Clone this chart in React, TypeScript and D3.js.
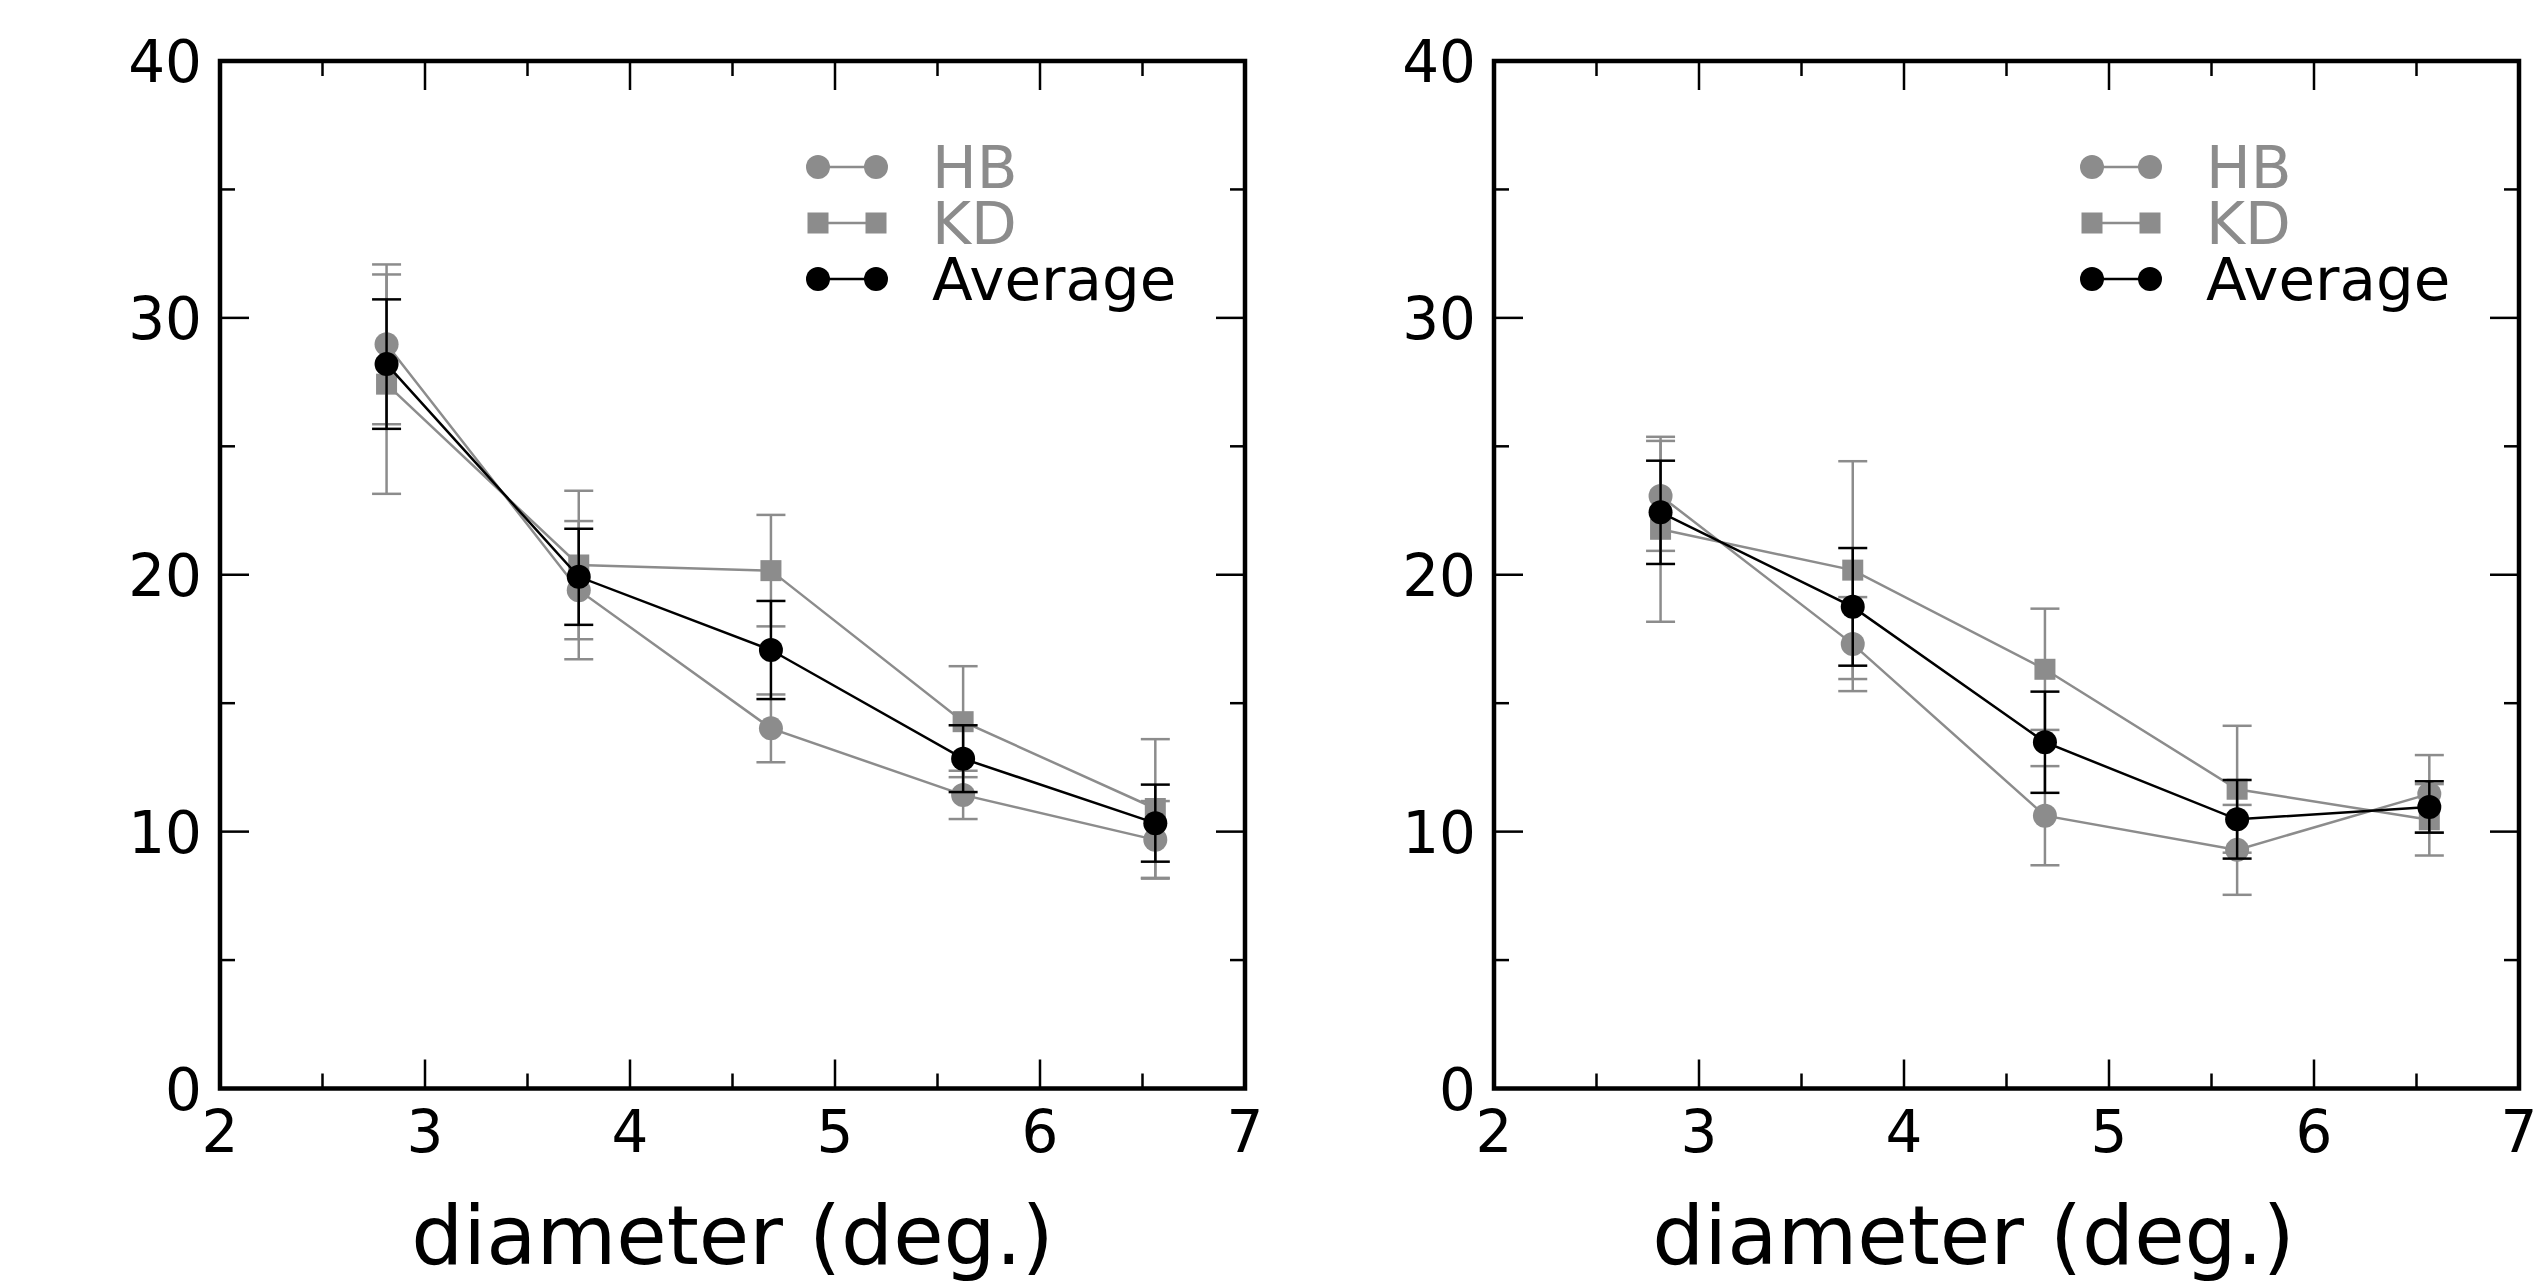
import * as d3 from "d3";

// stimulus diameters (deg.)
const diameters = [2.8125, 3.75, 4.6875, 5.625, 6.5625];

// left panel
const leftHB = [28.97, 19.4, 14.02, 11.43, 9.68];
const leftHBErr = [3.11, 2.69, 1.32, 0.94, 1.51];
const leftKD = [27.42, 20.38, 20.16, 14.28, 10.9];
const leftKDErr = [4.27, 2.89, 2.17, 2.16, 2.7];
const leftAvg = [28.2, 19.92, 17.07, 12.84, 10.33];
const leftAvgErr = [2.52, 1.87, 1.91, 1.3, 1.5];

// right panel
const rightHB = [23.07, 17.3, 10.62, 9.29, 11.47];
const rightHBErr = [2.14, 1.83, 1.93, 1.75, 1.51];
const rightKD = [21.77, 20.18, 16.32, 11.65, 10.46];
const rightKDErr = [3.6, 4.24, 2.36, 2.47, 1.39];
const rightAvg = [22.43, 18.75, 13.48, 10.48, 10.96];
const rightAvgErr = [2.01, 2.29, 1.97, 1.53, 1.0];

const seriesNames = ["HB", "KD", "Average"];
const xLabel = "diameter (deg.)";

const GRAY = "#8c8c8c";
const FONT = "DejaVu Sans";

type Series = { name: string; values: number[]; errs: number[]; color: string; shape: "circle" | "square" };

function Marker({ shape, x, y, color }: { shape: string; x: number; y: number; color: string }) {
    if (shape === "square") {
        return <rect x={x - 10.5} y={y - 10.5} width={21} height={21} fill={color} />;
    }
    return <circle cx={x} cy={y} r={12} fill={color} />;
}

function Panel({ left, series, labelShift }: { left: number; series: Series[]; labelShift: number }) {
    const width = 1025;
    const top = 61;
    const bottom = 1088.5;
    const x = d3.scaleLinear().domain([2, 7]).range([left, left + width]);
    const y = d3.scaleLinear().domain([0, 40]).range([bottom, top]);
    const line = d3.line<number>().x((_, i) => x(diameters[i])).y(d => y(d));

    const xMajor = x.ticks(5);
    const xMinor = d3.range(2.5, 7, 1);
    const yMajor = y.ticks(4);
    const yMinor = d3.range(5, 40, 10);
    const majorLen = 29;
    const minorLen = 15;
    const capHalf = 14.5;

    return (
        <g>
            {/* ticks, all sides inward */}
            <g stroke="#000" strokeWidth={2.5}>
                {xMajor.concat(xMinor).map((t, i) => {
                    const len = xMajor.includes(t) ? majorLen : minorLen;
                    return (
                        <g key={"xt" + i}>
                            <line x1={x(t)} x2={x(t)} y1={bottom} y2={bottom - len} />
                            <line x1={x(t)} x2={x(t)} y1={top} y2={top + len} />
                        </g>
                    );
                })}
                {yMajor.concat(yMinor).map((t, i) => {
                    const len = yMajor.includes(t) ? majorLen : minorLen;
                    return (
                        <g key={"yt" + i}>
                            <line x1={left} x2={left + len} y1={y(t)} y2={y(t)} />
                            <line x1={left + width} x2={left + width - len} y1={y(t)} y2={y(t)} />
                        </g>
                    );
                })}
            </g>

            {/* data */}
            {series.map(s => (
                <g key={s.name}>
                    {s.values.map((v, i) => (
                        <g key={i} stroke={s.color} strokeWidth={2.5}>
                            <line x1={x(diameters[i])} x2={x(diameters[i])} y1={y(v - s.errs[i])} y2={y(v + s.errs[i])} />
                            <line x1={x(diameters[i]) - capHalf} x2={x(diameters[i]) + capHalf} y1={y(v - s.errs[i])} y2={y(v - s.errs[i])} />
                            <line x1={x(diameters[i]) - capHalf} x2={x(diameters[i]) + capHalf} y1={y(v + s.errs[i])} y2={y(v + s.errs[i])} />
                        </g>
                    ))}
                    <path d={line(s.values) ?? ""} fill="none" stroke={s.color} strokeWidth={2.5} />
                    {s.values.map((v, i) => (
                        <Marker key={i} shape={s.shape} x={x(diameters[i])} y={y(v)} color={s.color} />
                    ))}
                </g>
            ))}

            {/* frame */}
            <rect x={left} y={top} width={width} height={bottom - top} fill="none" stroke="#000" strokeWidth={4.5} />

            {/* tick labels */}
            <g fontFamily={FONT} fontSize={58} fill="#000">
                {xMajor.map(t => (
                    <text key={"xl" + t} x={x(t)} y={1152} textAnchor="middle">{t}</text>
                ))}
                {yMajor.map(t => (
                    <text key={"yl" + t} x={left - 18} y={y(t) + 21} textAnchor="end">{t}</text>
                ))}
            </g>

            <text x={left + width / 2 + labelShift} y={1264} textAnchor="middle" fontFamily={FONT} fontSize={82}>{xLabel}</text>

            {/* legend */}
            <g fontFamily={FONT} fontSize={59.5}>
                {series.map((s, i) => {
                    const ly = 167 + i * 56;
                    return (
                        <g key={"lg" + s.name}>
                            <line x1={left + 598} x2={left + 656} y1={ly} y2={ly} stroke={s.color} strokeWidth={2.5} />
                            <Marker shape={s.shape} x={left + 598} y={ly} color={s.color} />
                            <Marker shape={s.shape} x={left + 656} y={ly} color={s.color} />
                            <text x={left + 712} y={ly + 21} fill={s.color}>{s.name}</text>
                        </g>
                    );
                })}
            </g>
        </g>
    );
}

export default function App() {
    const leftSeries: Series[] = [
        { name: seriesNames[0], values: leftHB, errs: leftHBErr, color: GRAY, shape: "circle" },
        { name: seriesNames[1], values: leftKD, errs: leftKDErr, color: GRAY, shape: "square" },
        { name: seriesNames[2], values: leftAvg, errs: leftAvgErr, color: "#000", shape: "circle" },
    ];
    const rightSeries: Series[] = [
        { name: seriesNames[0], values: rightHB, errs: rightHBErr, color: GRAY, shape: "circle" },
        { name: seriesNames[1], values: rightKD, errs: rightKDErr, color: GRAY, shape: "square" },
        { name: seriesNames[2], values: rightAvg, errs: rightAvgErr, color: "#000", shape: "circle" },
    ];
    return (
        <svg width={2536} height={1283} style={{ position: "absolute", left: 0, top: 0, background: "#fff" }}>
            <Panel left={220} series={leftSeries} labelShift={0} />
            <Panel left={1494} series={rightSeries} labelShift={-33} />
        </svg>
    );
}
